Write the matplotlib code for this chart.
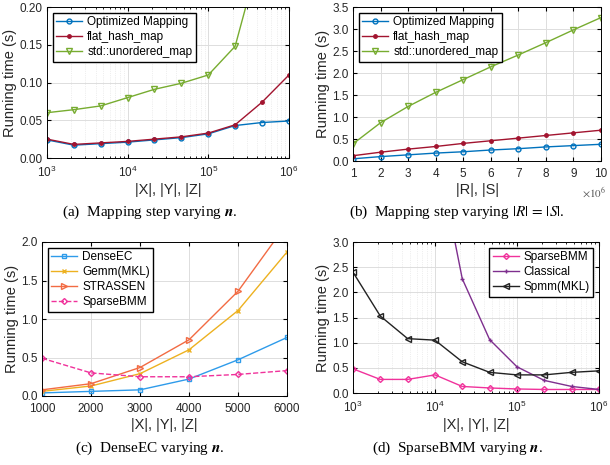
import numpy as np
import matplotlib
matplotlib.use('Agg')
import matplotlib.pyplot as plt
from matplotlib.ticker import FormatStrFormatter, LogLocator, NullFormatter

plt.rcParams['font.family'] = ['Liberation Sans', 'DejaVu Sans']
plt.rcParams['mathtext.fontset'] = 'stix'

# ---- datos ----
n_log = [1e3, 2.15e3, 4.64e3, 1e4, 2.15e4, 4.64e4, 1e5, 2.15e5, 4.64e5, 1e6]

a_opt = [0.024, 0.017, 0.019, 0.021, 0.024, 0.027, 0.032, 0.043, 0.047, 0.049]
a_flat = [0.025, 0.018, 0.020, 0.022, 0.025, 0.028, 0.033, 0.044, 0.074, 0.110]
a_std = [0.060, 0.064, 0.069, 0.080, 0.091, 0.099, 0.110, 0.148, 0.28, 0.55]

rs = [1, 2, 3, 4, 5, 6, 7, 8, 9, 10]
b_opt = [0.05, 0.10, 0.14, 0.18, 0.21, 0.25, 0.28, 0.32, 0.35, 0.38]
b_flat = [0.12, 0.20, 0.27, 0.33, 0.40, 0.46, 0.52, 0.58, 0.64, 0.70]
b_std = [0.39, 0.87, 1.24, 1.56, 1.85, 2.14, 2.41, 2.69, 2.98, 3.26]

n_dense = [1000, 2000, 3000, 4000, 5000, 6000]
c_dense = [0.04, 0.06, 0.08, 0.22, 0.47, 0.76]
c_gemm = [0.06, 0.13, 0.29, 0.60, 1.11, 1.87]
c_strassen = [0.08, 0.16, 0.37, 0.73, 1.36, 2.24]
c_sparse = [0.49, 0.30, 0.25, 0.25, 0.28, 0.33]

d_sparse = [0.48, 0.27, 0.27, 0.36, 0.13, 0.10, 0.08, 0.07, 0.07, 0.07]
d_classical = [30.0, 16.0, 9.0, 5.0, 2.27, 1.06, 0.52, 0.25, 0.13, 0.07]
d_spmm = [2.40, 1.53, 1.08, 1.05, 0.62, 0.41, 0.36, 0.36, 0.41, 0.44]

# colores estilo MATLAB
AZUL = '#0072BD'
ROJO = '#A2142F'
VERDE = '#77AC30'
CELESTE = '#2E9BEA'
AMARILLO = '#EDB120'
NARANJA = '#F26B43'
ROSA = '#F0329B'
MORADO = '#7E2F8E'
GRIS_TXT = '#262626'

W, H = 610, 465
fig = plt.figure(figsize=(W / 100, H / 100), dpi=100)


def caja(l, r, t, b):
    return fig.add_axes([l / W, 1 - b / H, (r - l) / W, (b - t) / H])


def estilo(ax, log=False):
    ax.tick_params(direction='in', labelsize=8.5, length=3, top=True, right=True, pad=3,
                   labelcolor=GRIS_TXT)
    ax.tick_params(axis='x', pad=5)
    ax.tick_params(which='minor', direction='in', length=1.5, top=True, right=True)
    ax.grid(True, which='major', color='#dddddd', linewidth=0.7)
    if log:
        ax.grid(True, which='minor', color='#e0e0e0', linewidth=0.5, linestyle=':')
        ax.xaxis.set_minor_locator(LogLocator(base=10, subs=np.arange(2, 10)))
        ax.xaxis.set_minor_formatter(NullFormatter())
    ax.set_axisbelow(True)
    for s in ax.spines.values():
        s.set_linewidth(0.7)
    ax.set_ylabel('Running time (s)', fontsize=10.5, labelpad=2, color=GRIS_TXT)


leg_kw = dict(fontsize=8.5, frameon=True, fancybox=False, edgecolor='black',
              framealpha=1, handlelength=2.2, borderpad=0.3, labelspacing=0.25,
              handletextpad=0.4)

# (a)
ax = caja(47, 289, 7, 158)
ax.plot(n_log, a_opt, '-o', color=AZUL, ms=3.5, mfc='none', lw=1, label='Optimized Mapping')
ax.plot(n_log, a_flat, '-o', color=ROJO, ms=2.5, lw=1, label='flat_hash_map')
ax.plot(n_log, a_std, '-v', color=VERDE, ms=4, mfc='none', lw=1, label='std::unordered_map')
ax.set_xscale('log')
ax.set_xlim(1e3, 1e6)
ax.set_ylim(0, 0.2)
ax.set_yticks([0, 0.05, 0.10, 0.15, 0.20])
ax.yaxis.set_major_formatter(FormatStrFormatter('%.2f'))
estilo(ax, log=True)
ax.set_xlabel('|X|, |Y|, |Z|', fontsize=10.5, labelpad=2, color=GRIS_TXT)
ax.legend(loc='upper left', **leg_kw)

# (b)
ax = caja(353, 601, 7, 161)
ax.plot(rs, b_opt, '-o', color=AZUL, ms=3.5, mfc='none', lw=1, label='Optimized Mapping')
ax.plot(rs, b_flat, '-o', color=ROJO, ms=2.5, lw=1, label='flat_hash_map')
ax.plot(rs, b_std, '-v', color=VERDE, ms=4, mfc='none', lw=1, label='std::unordered_map')
ax.set_xlim(1, 10)
ax.set_ylim(0, 3.5)
ax.set_xticks(rs)
ax.set_yticks(np.arange(0, 3.6, 0.5))
ax.yaxis.set_major_formatter(FormatStrFormatter('%.1f'))
estilo(ax)
ax.set_xlabel('|R|, |S|', fontsize=10.5, labelpad=2, color=GRIS_TXT)
ax.text(1.02, -0.16, r'$\times10^6$', transform=ax.transAxes, ha='right', va='top',
        fontsize=8, color='#555555', family='DejaVu Sans')
ax.legend(loc='upper left', **leg_kw)

# (c)
ax = caja(42, 287, 242, 396)
ax.plot(n_dense, c_dense, '-s', color=CELESTE, ms=3, mfc='none', lw=1, label='DenseEC')
ax.plot(n_dense, c_gemm, '-x', color=AMARILLO, ms=3, lw=1, label='Gemm(MKL)')
ax.plot(n_dense, c_strassen, '->', color=NARANJA, ms=4, mfc='none', lw=1, label='STRASSEN')
ax.plot(n_dense, c_sparse, '--D', color=ROSA, ms=3, mfc='none', lw=1, label='SparseBMM')
ax.set_xlim(1000, 6000)
ax.set_ylim(0, 2.0)
ax.set_yticks([0, 0.5, 1.0, 1.5, 2.0])
ax.yaxis.set_major_formatter(FormatStrFormatter('%.1f'))
estilo(ax)
ax.set_xlabel('|X|, |Y|, |Z|', fontsize=10.5, labelpad=2, color=GRIS_TXT)
ax.legend(loc='upper left', **leg_kw)

# (d)
ax = caja(353, 599, 242, 393)
ax.plot(n_log, d_sparse, '-D', color=ROSA, ms=3, mfc='none', lw=1, label='SparseBMM')
ax.plot(n_log, d_classical, '-+', color=MORADO, ms=3.5, lw=1, label='Classical')
ax.plot(n_log, d_spmm, '-<', color='#222222', ms=4, mfc='none', lw=1, label='Spmm(MKL)')
ax.set_xscale('log')
ax.set_xlim(1e3, 1e6)
ax.set_ylim(0, 3.0)
ax.set_yticks(np.arange(0, 3.1, 0.5))
ax.yaxis.set_major_formatter(FormatStrFormatter('%.1f'))
estilo(ax, log=True)
ax.set_xlabel('|X|, |Y|, |Z|', fontsize=10.5, labelpad=2, color=GRIS_TXT)
ax.legend(loc='upper right', **leg_kw)

# leyendas inferiores
cap = dict(ha='center', va='center', fontsize=11, family='Liberation Serif')
fig.text(150 / W, 1 - 212 / H, r'(a)  Mapping step varying $\boldsymbol{n}$.', **cap)
fig.text(457 / W, 1 - 212 / H, r'(b)  Mapping step varying $|R|\,=\,|S|$.', **cap)
fig.text(150 / W, 1 - 448 / H, r'(c)  DenseEC varying $\boldsymbol{n}$.', **cap)
fig.text(457 / W, 1 - 448 / H, r'(d)  SparseBMM varying $\boldsymbol{n}$.', **cap)

fig.savefig('out.png', dpi=100)
